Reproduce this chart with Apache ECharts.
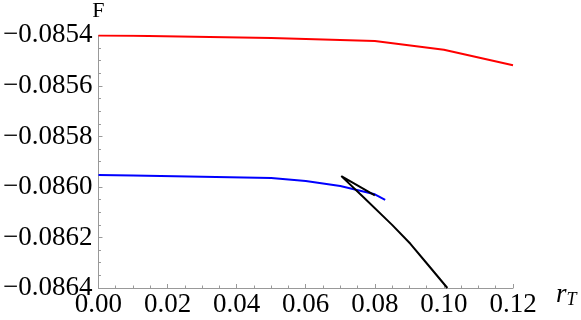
<!DOCTYPE html>
<html>
<head>
<meta charset="utf-8">
<script src="https://cdn.jsdelivr.net/npm/echarts@6/dist/echarts.min.js"></script>
<style>
html,body{margin:0;padding:0;background:#fff;}
#c{width:581px;height:320px;}
</style>
</head>
<body>
<div id="c"></div>
<script>
// Data
const redX = [0, 0.01, 0.05, 0.08, 0.10, 0.12];
const redY = [-0.085400, -0.085401, -0.085410, -0.085422, -0.085457, -0.085518];

const blueX = [0, 0.01, 0.05, 0.06, 0.07, 0.08, 0.083];
const blueY = [-0.085953, -0.085955, -0.085965, -0.085976, -0.085996, -0.086029, -0.086051];

const blackX = [0.0800, 0.0703, 0.0768, 0.0850, 0.0903, 0.0955, 0.1010];
const blackY = [-0.086033, -0.085957, -0.086042, -0.086150, -0.086225, -0.086310, -0.086400];

const xTicks = [0, 0.02, 0.04, 0.06, 0.08, 0.10, 0.12];
const yTicks = [-0.0864, -0.0862, -0.0860, -0.0858, -0.0856, -0.0854];

function zip(xs, ys) { return xs.map((x, i) => [x, ys[i]]); }

const chart = echarts.init(document.getElementById('c'), null, {renderer: 'canvas'});
const axisGray = '#999999';
const font = 'Liberation Serif';

chart.setOption({
  animation: false,
  backgroundColor: '#ffffff',
  textStyle: {fontFamily: font},
  grid: {left: 98, right: 68, top: 33, bottom: 32, containLabel: false},
  xAxis: {
    type: 'value',
    min: xTicks[0],
    max: xTicks[xTicks.length - 1],
    interval: 0.02,
    name: '{r|r}{t|T}',
    nameLocation: 'end',
    nameGap: 43,
    nameTextStyle: {
      align: 'left',
      verticalAlign: 'middle',
      padding: [14, 0, 0, 0],
      rich: {
        r: {fontFamily: font, fontStyle: 'italic', fontSize: 27, color: '#000'},
        t: {fontFamily: font, fontStyle: 'italic', fontSize: 18, color: '#000', padding: [10, 0, 0, 0]}
      }
    },
    axisLine: {show: true, onZero: false, lineStyle: {color: axisGray, width: 1}},
    axisTick: {show: true, inside: true, length: 4, lineStyle: {color: axisGray}},
    minorTick: {show: true, splitNumber: 4, length: 2.5, lineStyle: {color: axisGray}},
    splitLine: {show: false},
    axisLabel: {
      show: true, margin: 3, color: '#000', fontFamily: font, fontSize: 27,
      formatter: v => v.toFixed(2)
    }
  },
  yAxis: {
    type: 'value',
    min: yTicks[0],
    max: yTicks[yTicks.length - 1],
    interval: 0.0002,
    name: 'F',
    nameLocation: 'end',
    nameGap: 12,
    nameTextStyle: {color: '#000', fontFamily: font, fontSize: 22, align: 'center'},
    axisLine: {show: true, onZero: false, lineStyle: {color: axisGray, width: 1}},
    axisTick: {show: true, inside: true, length: 4, lineStyle: {color: axisGray}},
    minorTick: {show: true, splitNumber: 4, length: 2.5, lineStyle: {color: axisGray}},
    splitLine: {show: false},
    axisLabel: {
      show: true, margin: 6, color: '#000', fontFamily: font, fontSize: 27,
      formatter: v => '\u2212' + Math.abs(v).toFixed(4)
    }
  },
  series: [
    {type: 'line', data: zip(redX, redY), showSymbol: false, symbol: 'none',
     lineStyle: {color: '#ff0000', width: 2}, clip: true},
    {type: 'line', data: zip(blueX, blueY), showSymbol: false, symbol: 'none',
     lineStyle: {color: '#0000ff', width: 2}, clip: true},
    {type: 'line', data: zip(blackX, blackY), showSymbol: false, symbol: 'none',
     lineStyle: {color: '#000000', width: 2}, clip: true}
  ]
});
</script>
</body>
</html>
